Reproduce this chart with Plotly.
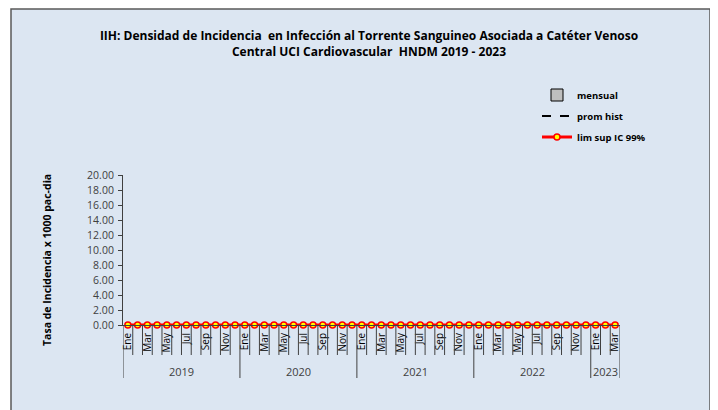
import plotly.graph_objects as go

years = [2019, 2020, 2021, 2022, 2023]
months_per_year = [12, 12, 12, 12, 3]
month_names = ["Ene", "Feb", "Mar", "Abr", "May", "Jun", "Jul", "Ago", "Sep", "Oct", "Nov", "Dic"]

# values (all months read as 0.00)
mensual = [0.0] * 51
prom_hist = [0.0] * 51
lim_sup = [0.0] * 51

labels = []
for y, n in zip(years, months_per_year):
    for m in range(n):
        labels.append(month_names[m])
x = list(range(len(labels)))

# page body has an 8px margin; screen pixel positions below are converted
OFF = 8
W, H = 718, 410
# plot area on screen: x 123..620, y 175..325
L, T = 123 - OFF, 175 - OFF
R = W - (620 - OFF)
B = H - (325 - OFF)
pw, ph = W - L - R, H - T - B

def px_x(p):
    return (p - OFF - L) / pw

def px_y(p):
    return (H - B - (p - OFF)) / ph

fig = go.Figure()
fig.add_trace(go.Bar(x=x, y=mensual, name="mensual", legend="legend",
                     marker=dict(color="#BFBFBF", line=dict(color="#000000", width=1))))
fig.add_trace(go.Scatter(x=x, y=prom_hist, name="prom hist", mode="lines", legend="legend2",
                         line=dict(color="#000000", width=2, dash="dash"), cliponaxis=False))
fig.add_trace(go.Scatter(x=x, y=lim_sup, name="lim sup IC 99%", mode="lines+markers", legend="legend3",
                         line=dict(color="#FF0000", width=3),
                         marker=dict(color="#FFFF00", size=6, line=dict(color="#FF0000", width=1.5)),
                         cliponaxis=False))

shapes = []
# chart frame
shapes.append(dict(type="rect", xref="paper", yref="paper", layer="below",
                   x0=px_x(11), x1=px_x(710), y0=px_y(430), y1=px_y(9),
                   fillcolor="#DCE6F2", line=dict(color="#595959", width=1.5)))
# month separators and year separators
boundaries_year = [0]
for n in months_per_year:
    boundaries_year.append(boundaries_year[-1] + n)
for i in range(len(labels) + 1):
    is_year = i in boundaries_year
    shapes.append(dict(type="line", xref="x", yref="paper", x0=i - 0.5, x1=i - 0.5,
                       y0=0, y1=px_y(378) if is_year else px_y(355),
                       line=dict(color="#404040", width=1)))

annotations = []
for k, y in enumerate(years):
    c = (boundaries_year[k] + boundaries_year[k + 1] - 1) / 2
    annotations.append(dict(x=c, y=px_y(371), xref="x", yref="paper", text=str(y), showarrow=False,
                            font=dict(size=11, color="#404040"), yanchor="middle"))
annotations.append(dict(x=px_x(47), y=px_y(260), xref="paper", yref="paper", textangle=-90,
                        text="<b>Tasa de Incidencia x 1000 pac-dia</b>", showarrow=False,
                        font=dict(size=10.5, color="#000000"), xanchor="center", yanchor="middle"))

leg_common = dict(xanchor="left", yanchor="middle", bgcolor="rgba(0,0,0,0)",
                  font=dict(size=9.5, color="#000000", weight="bold"), x=px_x(537))

fig.update_layout(
    width=W, height=H,
    margin=dict(l=L, r=R, t=T, b=B, autoexpand=False),
    paper_bgcolor="#FFFFFF",
    plot_bgcolor="#DCE6F2",
    font=dict(family="Open Sans, Arial, sans-serif", color="#404040"),
    title=dict(text="IIH: Densidad de Incidencia  en Infección al Torrente Sanguineo Asociada a Catéter Venoso<br>Central UCI Cardiovascular  HNDM 2019 - 2023",
               x=(369 - OFF) / W, xref="container", xanchor="center", y=1 - 32 / H, yref="container", yanchor="top",
               font=dict(size=12, color="#000000", family="Open Sans, Arial, sans-serif", weight="bold")),
    showlegend=True,
    legend=dict(**leg_common, y=px_y(95)),
    legend2=dict(**leg_common, y=px_y(116)),
    legend3=dict(**leg_common, y=px_y(137)),
    shapes=shapes,
    annotations=annotations,
    bargap=0.5,
)
fig.update_xaxes(range=[-0.5, len(labels) - 0.5], tickmode="array", automargin=False,
                 tickvals=[i for i, l in enumerate(labels) if month_names.index(l) % 2 == 0],
                 ticktext=[l for l in labels if month_names.index(l) % 2 == 0],
                 tickangle=-90, ticks="", showline=True, linecolor="#404040", linewidth=1,
                 ticklabelstandoff=3,
                 showgrid=False, zeroline=False, tickfont=dict(size=10, color="#000000"))
fig.update_yaxes(range=[0, 20], dtick=2, tickformat=".2f", ticks="outside", ticklen=4, automargin=False,
                 tickcolor="#404040", showline=True, linecolor="#404040", linewidth=1,
                 ticklabelstandoff=2,
                 showgrid=False, zeroline=False, tickfont=dict(size=10.5, color="#404040"))

fig.write_html("out.html")
